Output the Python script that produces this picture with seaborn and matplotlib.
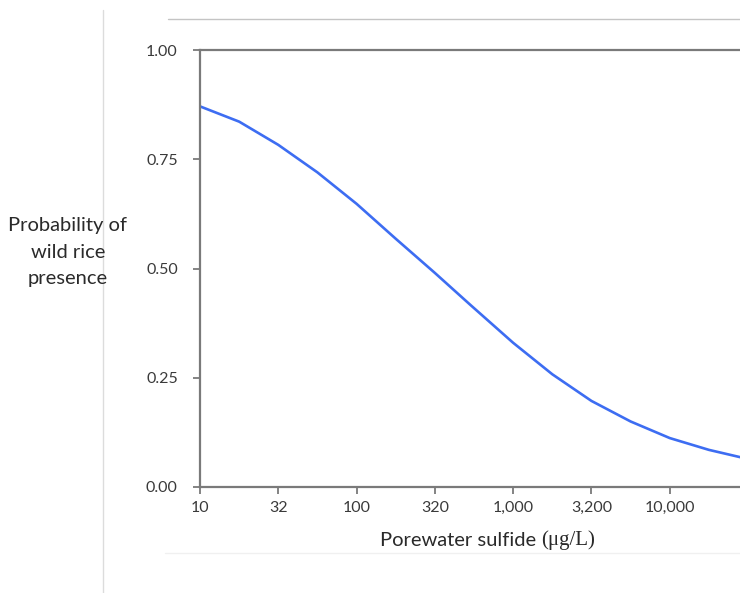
import numpy as np
import pandas as pd
import matplotlib
matplotlib.use("Agg")
import matplotlib.pyplot as plt
import seaborn as sns
from matplotlib.lines import Line2D

# data (sulfide in µg/L, probability)
sulfide = [10, 17.8, 31.6, 56.2, 100, 178, 316, 532, 1000, 1778, 3162, 5623, 10000, 17783, 30000]
probability = [0.871, 0.836, 0.783, 0.720, 0.648, 0.568, 0.490, 0.417, 0.330, 0.258, 0.197, 0.150, 0.112, 0.085, 0.066]
x_ticks = [10, 31.62, 100, 316.2, 1000, 3162, 10000]
x_tick_labels = ["10", "32", "100", "320", "1,000", "3,200", "10,000"]
y_ticks = [0.0, 0.25, 0.5, 0.75, 1.0]
y_tick_labels = ["0.00", "0.25", "0.50", "0.75", "1.00"]

df = pd.DataFrame({"sulfide": sulfide, "probability": probability})

sns.set_style("white")
plt.rcParams["font.family"] = ["Lato", "DejaVu Sans"]

W, H = 740, 593
fig = plt.figure(figsize=(W / 100, H / 100), dpi=100)

# axes: left spine at x=200, top at y=50, bottom at y=487; right edge just past the figure
ax = fig.add_axes([200 / W, 1 - 487 / H, 548 / W, (487 - 50) / H])
sns.lineplot(data=df, x="sulfide", y="probability", ax=ax, color="#3d6df2", linewidth=1.9)
ax.set_xscale("log")
ax.set_xlim(10, 10 ** 4.5)
ax.set_ylim(0, 1)

spine_col = "#7a7a7a"
for side in ["left", "bottom", "top"]:
    ax.spines[side].set_visible(True)
    ax.spines[side].set_color(spine_col)
    ax.spines[side].set_linewidth(1.6)
ax.spines["right"].set_visible(False)

ax.set_xticks(x_ticks)
ax.set_xticklabels(x_tick_labels)
ax.xaxis.set_minor_locator(matplotlib.ticker.NullLocator())
ax.set_yticks(y_ticks)
ax.set_yticklabels(y_tick_labels)
ax.tick_params(axis="both", which="major", direction="out", length=5, width=1.3,
               color=spine_col, labelcolor="#3a3a3a", labelsize=11.5,
               bottom=True, left=True, top=False, right=False)
ax.tick_params(axis="x", pad=5)
ax.tick_params(axis="y", pad=11)
ax.set_xlabel("")
ax.set_ylabel("")

# axis titles
fig.text(68 / W, 1 - 252 / H, "Probability of\nwild rice\npresence", ha="center", va="center",
         fontsize=14.5, color="#2a2a2a", linespacing=1.68)
fig.text(541 / W, 1 - 540 / H, "Porewater sulfide ", ha="right", va="center",
         fontsize=14.5, color="#2a2a2a")
fig.text(541 / W, 1 - 540 / H, "(μg/L)", ha="left", va="center",
         fontsize=15, color="#2a2a2a", family=["Liberation Serif", "DejaVu Serif"])

# decorative frame lines from the slide
fig.add_artist(Line2D([103 / W, 103 / W], [0, 1 - 10 / H], transform=fig.transFigure,
                      color="#dcdcdc", linewidth=1.0))
fig.add_artist(Line2D([168 / W, 1], [1 - 19 / H, 1 - 19 / H], transform=fig.transFigure,
                      color="#c4c4c4", linewidth=1.0))
fig.add_artist(Line2D([165 / W, 1], [1 - 553 / H, 1 - 553 / H], transform=fig.transFigure,
                      color="#f0f0f0", linewidth=1.0))

fig.savefig("out.png", dpi=100)
